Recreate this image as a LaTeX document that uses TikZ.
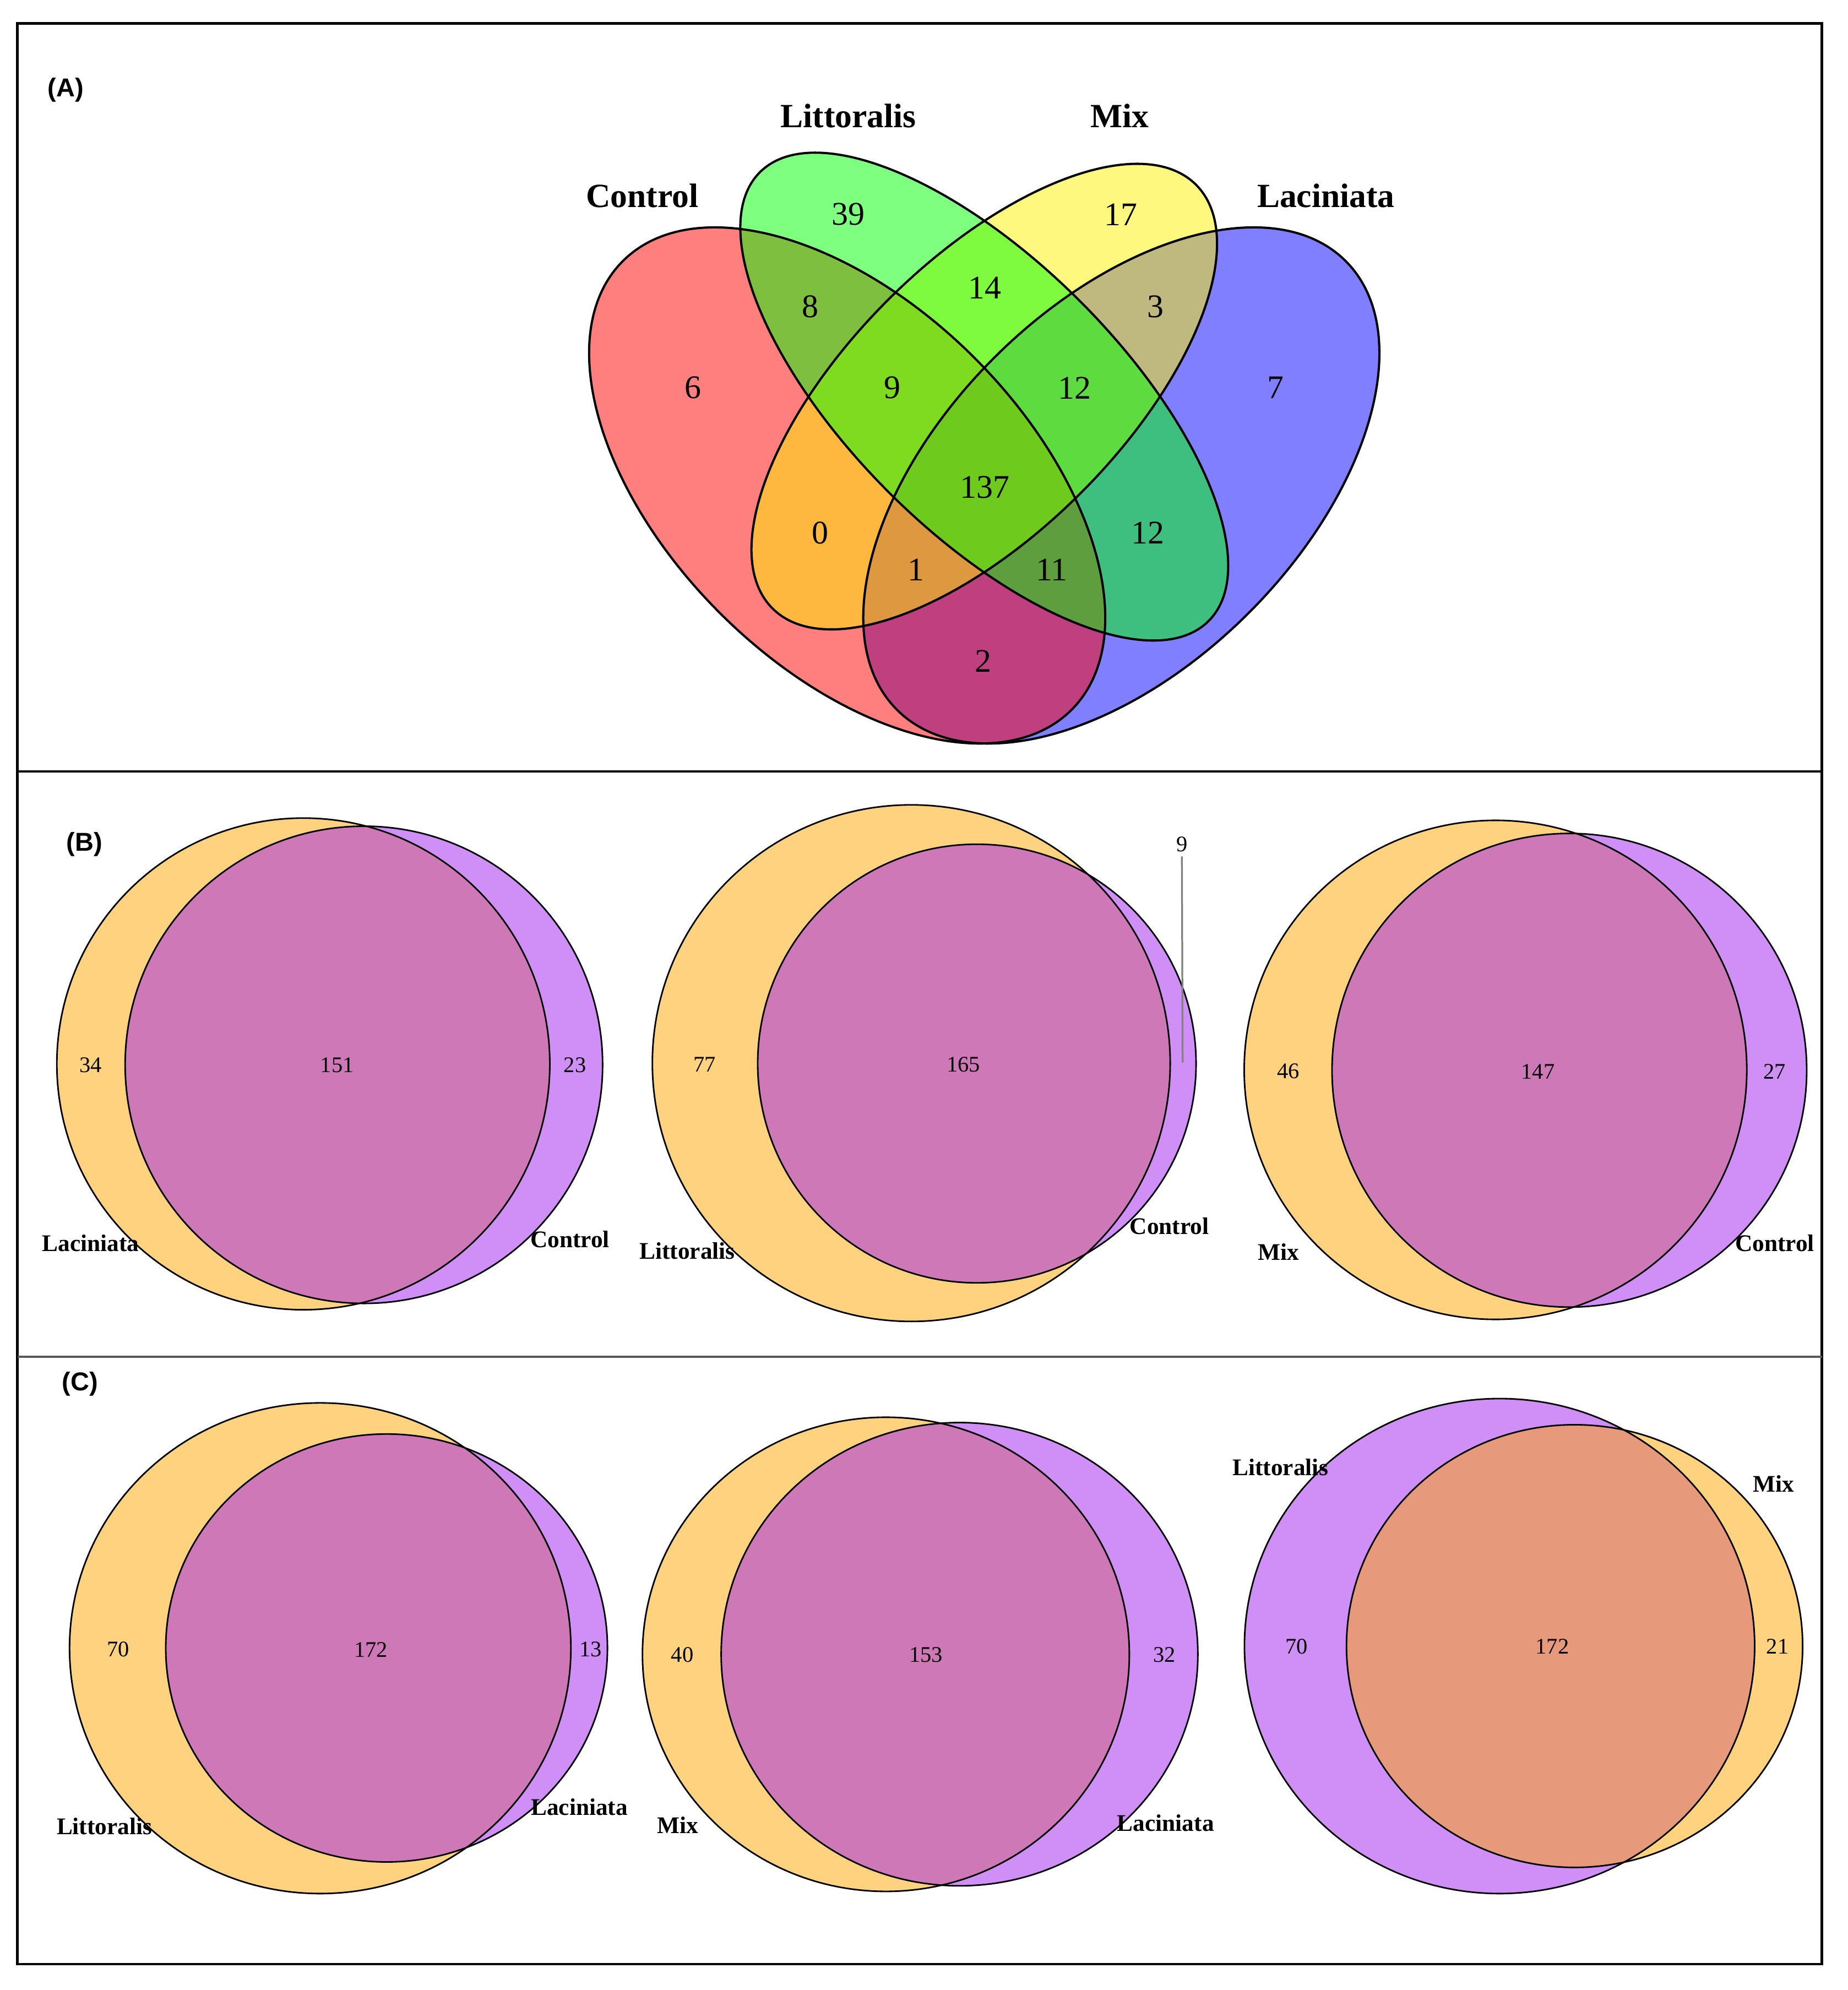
\documentclass[tikz,border=0pt]{standalone}
\usepackage{fontspec}
\setmainfont{Liberation Serif}
\newfontfamily\panelfont{Liberation Sans}
\definecolor{vennorange}{HTML}{FFA500}
\definecolor{vennpurple}{HTML}{A020F0}

\begin{document}
\begin{tikzpicture}[
  setfill/.style={fill opacity=0.5},
  quadline/.style={draw=black, line width=0.5pt},
  pairline/.style={draw=black, line width=0.35pt},
  bignum/.style={font=\fontsize{7.4}{8}\selectfont, inner sep=0pt},
  bigname/.style={font=\fontsize{7.6}{8}\selectfont\bfseries, inner sep=0pt},
  smallnum/.style={font=\fontsize{5.0}{6}\selectfont, inner sep=0pt},
  smallname/.style={font=\fontsize{5.35}{6}\selectfont\bfseries, inner sep=0pt},
  panel/.style={font=\panelfont\fontsize{5.8}{7}\selectfont\bfseries, inner sep=0pt}
]

\useasboundingbox (0,0) rectangle (14.56,-15.68);

%\draw[help lines] (0,-15.68) grid (14.56,0);

%% frame and panel separators
\draw [line width=0.6pt] (0.137,-0.183) rectangle (14.356,-15.476);
\draw [line width=0.4pt] (0.137,-6.078) -- (14.356,-6.078);
\draw [line width=0.45pt, black!65] (0.137,-10.69) -- (14.356,-10.69);

%% (A) four sets
\node [panel] (pA) at (0.518,-0.709) {(A)};

\fill [blue, setfill, shift={(8.835,-3.825)}, rotate=45] (0,0) ellipse [x radius=2.5, y radius=1.42];
\fill [red, setfill, shift={(6.675,-3.825)}, rotate=-45] (0,0) ellipse [x radius=2.5, y radius=1.42];
\fill [yellow, setfill, shift={(7.755,-3.125)}, rotate=45] (0,0) ellipse [x radius=2.36, y radius=1.075];
\fill [green, setfill, shift={(7.755,-3.125)}, rotate=-45] (0,0) ellipse [x radius=2.5, y radius=1.065];

\draw [quadline, shift={(8.835,-3.825)}, rotate=45] (0,0) ellipse [x radius=2.5, y radius=1.42];
\draw [quadline, shift={(6.675,-3.825)}, rotate=-45] (0,0) ellipse [x radius=2.5, y radius=1.42];
\draw [quadline, shift={(7.755,-3.125)}, rotate=45] (0,0) ellipse [x radius=2.36, y radius=1.075];
\draw [quadline, shift={(7.755,-3.125)}, rotate=-45] (0,0) ellipse [x radius=2.5, y radius=1.065];

\node [bigname] (aLit) at (6.684,-0.911) {Littoralis};
\node [bigname] (aMix) at (8.823,-0.911) {Mix};
\node [bigname] (aCon) at (5.060,-1.544) {Control};
\node [bigname] (aLac) at (10.447,-1.544) {Laciniata};

\node [bignum] (a39) at (6.684,-1.689) {39};
\node [bignum] (a17) at (8.830,-1.690) {17};
\node [bignum] (a8) at (6.383,-2.416) {8};
\node [bignum] (a14) at (7.760,-2.270) {14};
\node [bignum] (a3) at (9.106,-2.416) {3};
\node [bignum] (a6) at (5.458,-3.056) {6};
\node [bignum] (a9) at (7.030,-3.056) {9};
\node [bignum] (a12t) at (8.468,-3.056) {12};
\node [bignum] (a7) at (10.049,-3.056) {7};
\node [bignum] (a137) at (7.760,-3.840) {137};
\node [bignum] (a0) at (6.463,-4.198) {0};
\node [bignum] (a12b) at (9.044,-4.198) {12};
\node [bignum] (a1) at (7.216,-4.490) {1};
\node [bignum] (a11) at (8.287,-4.490) {11};
\node [bignum] (a2) at (7.747,-5.210) {2};

%% (B) Laciniata / Control
\node [panel] (pB) at (0.664,-6.652) {(B)};
\fill [vennorange, setfill] (2.390,-8.383) ellipse [x radius=1.942, y radius=1.937];
\fill [vennpurple, setfill] (2.867,-8.390) ellipse [x radius=1.881, y radius=1.880];
\draw [pairline] (2.390,-8.383) ellipse [x radius=1.942, y radius=1.937];
\draw [pairline] (2.867,-8.390) ellipse [x radius=1.881, y radius=1.880];
\node [smallnum] (b1l) at (0.714,-8.394) {34};
\node [smallnum] (b1m) at (2.656,-8.394) {151};
\node [smallnum] (b1r) at (4.530,-8.394) {23};
\node [smallname] (b1a) at (0.714,-9.794) {Laciniata};
\node [smallname] (b1b) at (4.490,-9.763) {Control};

%% (B) Littoralis / Control
\fill [vennorange, setfill] (7.180,-8.377) ellipse [x radius=2.040, y radius=2.035];
\fill [vennpurple, setfill] (7.697,-8.380) ellipse [x radius=1.727, y radius=1.728];
\draw [pairline] (7.180,-8.377) ellipse [x radius=2.040, y radius=2.035];
\draw [pairline] (7.697,-8.380) ellipse [x radius=1.727, y radius=1.728];
\node [smallnum] (b2l) at (5.552,-8.387) {77};
\node [smallnum] (b2m) at (7.592,-8.387) {165};
\node [smallnum] (b2r) at (9.312,-6.652) {9};
\coordinate (b2tip) at (9.318,-8.372);
\draw [gray, line width=0.4pt] (b2r.south) ++(0,-0.03) -- (b2tip);
\node [smallname] (b2a) at (5.415,-9.855) {Littoralis};
\node [smallname] (b2b) at (9.214,-9.660) {Control};

%% (B) Mix / Control
\fill [vennorange, setfill] (11.783,-8.430) ellipse [x radius=1.980, y radius=1.966];
\fill [vennpurple, setfill] (12.365,-8.433) ellipse [x radius=1.870, y radius=1.866];
\draw [pairline] (11.783,-8.430) ellipse [x radius=1.980, y radius=1.966];
\draw [pairline] (12.365,-8.433) ellipse [x radius=1.870, y radius=1.866];
\node [smallnum] (b3l) at (10.152,-8.442) {46};
\node [smallnum] (b3m) at (12.118,-8.442) {147};
\node [smallnum] (b3r) at (13.983,-8.442) {27};
\node [smallname] (b3a) at (10.072,-9.864) {Mix};
\node [smallname] (b3b) at (13.983,-9.794) {Control};

%% (C) Littoralis / Laciniata
\node [panel] (pC) at (0.631,-10.903) {(C)};
\fill [vennorange, setfill] (2.523,-12.987) ellipse [x radius=1.975, y radius=1.933];
\fill [vennpurple, setfill] (3.046,-12.985) ellipse [x radius=1.740, y radius=1.686];
\draw [pairline] (2.523,-12.987) ellipse [x radius=1.975, y radius=1.933];
\draw [pairline] (3.046,-12.985) ellipse [x radius=1.740, y radius=1.686];
\node [smallnum] (c1l) at (0.930,-12.997) {70};
\node [smallnum] (c1m) at (2.922,-12.997) {172};
\node [smallnum] (c1r) at (4.655,-12.997) {13};
\node [smallname] (c1a) at (0.823,-14.391) {Littoralis};
\node [smallname] (c1b) at (4.565,-14.237) {Laciniata};

%% (C) Mix / Laciniata
\fill [vennorange, setfill] (6.980,-13.035) ellipse [x radius=1.918, y radius=1.868];
\fill [vennpurple, setfill] (7.560,-13.034) ellipse [x radius=1.878, y radius=1.825];
\draw [pairline] (6.980,-13.035) ellipse [x radius=1.918, y radius=1.868];
\draw [pairline] (7.560,-13.034) ellipse [x radius=1.878, y radius=1.825];
\node [smallnum] (c2l) at (5.376,-13.038) {40};
\node [smallnum] (c2m) at (7.296,-13.038) {153};
\node [smallnum] (c2r) at (9.175,-13.038) {32};
\node [smallname] (c2a) at (5.339,-14.381) {Mix};
\node [smallname] (c2b) at (9.184,-14.365) {Laciniata};

%% (C) Littoralis / Mix
\fill [vennpurple, setfill] (11.815,-12.970) ellipse [x radius=2.010, y radius=1.950];
\fill [vennorange, setfill] (12.406,-12.970) ellipse [x radius=1.797, y radius=1.744];
\draw [pairline] (11.815,-12.970) ellipse [x radius=2.010, y radius=1.950];
\draw [pairline] (12.406,-12.970) ellipse [x radius=1.797, y radius=1.744];
\node [smallnum] (c3l) at (10.216,-12.974) {70};
\node [smallnum] (c3m) at (12.230,-12.974) {172};
\node [smallnum] (c3r) at (14.005,-12.974) {21};
\node [smallname] (c3a) at (10.088,-11.563) {Littoralis};
\node [smallname] (c3b) at (13.973,-11.692) {Mix};

\end{tikzpicture}
\end{document}
